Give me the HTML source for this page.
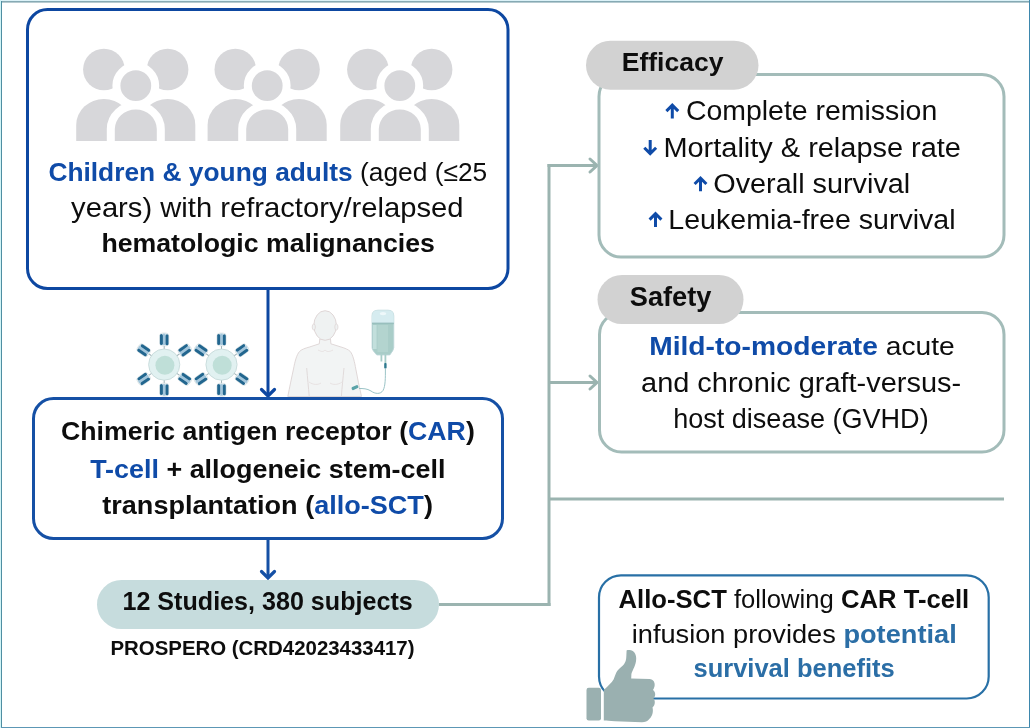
<!DOCTYPE html>
<html><head><meta charset="utf-8">
<style>
html,body{margin:0;padding:0;background:#fff;}
body{width:1030px;height:728px;overflow:hidden;position:relative;}
svg{position:absolute;left:0;top:0;display:block;will-change:transform;}
text{font-family:"Liberation Sans",sans-serif;}
</style></head>
<body>
<svg width="1030" height="728" viewBox="0 0 1030 728">
<rect x="0" y="0" width="1030" height="728" fill="#fff"/>
<rect x="0" y="0" width="1030" height="1" fill="#dcf2f8"/>
<rect x="0" y="0" width="1" height="728" fill="#d0f4f6"/>
<rect x="1" y="1" width="1028" height="1.6" fill="#86aab4"/>
<rect x="1" y="1" width="1" height="727" fill="#4f8ea2"/>
<rect x="1029" y="0" width="1" height="728" fill="#3d87ad"/>
<rect x="1" y="727" width="1029" height="1" fill="#5c97b5"/>
<g fill="#d7d7da">
<g transform="translate(0,0)">
<circle cx="103.9" cy="69.5" r="20.8"/>
<path d="M76.2,141 L76.2,124.9 A27.7,26 0 0 1 131.6,124.9 L131.6,141 Z"/>
<circle cx="167.6" cy="69.5" r="20.8"/>
<path d="M139.9,141 L139.9,124.9 A27.7,26 0 0 1 195.3,124.9 L195.3,141 Z"/>
<g stroke="#fff" stroke-width="16" paint-order="stroke" stroke-linejoin="round">
<circle cx="135.8" cy="85.7" r="15.4"/>
<path d="M114.8,141 L114.8,129.1 A21,19.5 0 0 1 156.8,129.1 L156.8,141 Z"/>
</g>
</g>
<g transform="translate(131.4,0)">
<circle cx="103.9" cy="69.5" r="20.8"/>
<path d="M76.2,141 L76.2,124.9 A27.7,26 0 0 1 131.6,124.9 L131.6,141 Z"/>
<circle cx="167.6" cy="69.5" r="20.8"/>
<path d="M139.9,141 L139.9,124.9 A27.7,26 0 0 1 195.3,124.9 L195.3,141 Z"/>
<g stroke="#fff" stroke-width="16" paint-order="stroke" stroke-linejoin="round">
<circle cx="135.8" cy="85.7" r="15.4"/>
<path d="M114.8,141 L114.8,129.1 A21,19.5 0 0 1 156.8,129.1 L156.8,141 Z"/>
</g>
</g>
<g transform="translate(264.0,0)">
<circle cx="103.9" cy="69.5" r="20.8"/>
<path d="M76.2,141 L76.2,124.9 A27.7,26 0 0 1 131.6,124.9 L131.6,141 Z"/>
<circle cx="167.6" cy="69.5" r="20.8"/>
<path d="M139.9,141 L139.9,124.9 A27.7,26 0 0 1 195.3,124.9 L195.3,141 Z"/>
<g stroke="#fff" stroke-width="16" paint-order="stroke" stroke-linejoin="round">
<circle cx="135.8" cy="85.7" r="15.4"/>
<path d="M114.8,141 L114.8,129.1 A21,19.5 0 0 1 156.8,129.1 L156.8,141 Z"/>
</g>
</g>
</g>
<rect x="60" y="141" width="420" height="9" fill="#fff"/>
<rect x="27.5" y="9.5" width="480.5" height="279" rx="20" ry="20" fill="none" stroke="#0d47a1" stroke-width="3"/>
<line x1="268" y1="290" x2="268" y2="395" stroke="#0d47a1" stroke-width="3"/>
<polyline points="261.5,389.5 268,396 274.5,389.5" fill="none" stroke="#0d47a1" stroke-width="3.2" stroke-linecap="round"/>
<rect x="33.5" y="398.5" width="469" height="140" rx="20" ry="20" fill="none" stroke="#1550a5" stroke-width="3"/>
<line x1="268" y1="540" x2="268" y2="578" stroke="#1550a5" stroke-width="3"/>
<polyline points="261.5,571.5 268,578 274.5,571.5" fill="none" stroke="#1550a5" stroke-width="3.2" stroke-linecap="round"/>
<rect x="97" y="580" width="342" height="49" rx="24.5" ry="24.5" fill="#c6dcdd"/>
<g stroke="#9bb4b0" stroke-width="3" fill="none">
  <line x1="439" y1="604.5" x2="550.5" y2="604.5"/>
  <line x1="549" y1="164" x2="549" y2="606"/>
  <line x1="547.5" y1="165.5" x2="596" y2="165.5"/>
  <line x1="549" y1="382.5" x2="596" y2="382.5"/>
  <line x1="549" y1="499" x2="1004" y2="499"/>
  <polyline points="590,159 597,165.5 590,172" stroke-linecap="round"/>
  <polyline points="590,376 597,382.5 590,389" stroke-linecap="round"/>
</g>
<rect x="599" y="74.5" width="405" height="182.5" rx="22" ry="22" fill="none" stroke="#a3bcb9" stroke-width="3"/>
<rect x="586" y="40.7" width="172.5" height="49" rx="24.5" ry="24.5" fill="#d2d2d2"/>
<rect x="599.5" y="312.5" width="404.5" height="139.5" rx="22" ry="22" fill="none" stroke="#a3bcb9" stroke-width="3"/>
<rect x="597.5" y="275" width="146" height="49" rx="24.5" ry="24.5" fill="#d2d2d2"/>
<rect x="599" y="575.3" width="389.7" height="123.2" rx="22" ry="22" fill="none" stroke="#2870a6" stroke-width="2.2"/>
<g transform="translate(164.20,339.60) rotate(0.0)">
<line x1="0" y1="5" x2="0" y2="10" stroke="#9fb3b8" stroke-width="1"/>
<rect x="-4.6" y="-6.6" width="9.2" height="13" rx="3" fill="#eef6f8" stroke="#c9d3d6" stroke-width="0.5"/>
<rect x="-1.3" y="-6" width="2.6" height="11.5" fill="#a3c6dc"/>
<rect x="-4.3" y="-5.6" width="3.0" height="11" rx="1.5" fill="#22668f"/>
<rect x="1.3" y="-5.4" width="3.0" height="11" rx="1.5" fill="#22668f"/>
</g>
<g transform="translate(164.20,389.60) rotate(-180.0)">
<line x1="0" y1="5" x2="0" y2="10" stroke="#9fb3b8" stroke-width="1"/>
<rect x="-4.6" y="-6.6" width="9.2" height="13" rx="3" fill="#eef6f8" stroke="#c9d3d6" stroke-width="0.5"/>
<rect x="-1.3" y="-6" width="2.6" height="11.5" fill="#a3c6dc"/>
<rect x="-4.3" y="-5.6" width="3.0" height="11" rx="1.5" fill="#22668f"/>
<rect x="1.3" y="-5.4" width="3.0" height="11" rx="1.5" fill="#22668f"/>
</g>
<g transform="translate(143.72,350.26) rotate(-55.0)">
<line x1="0" y1="5" x2="0" y2="10" stroke="#9fb3b8" stroke-width="1"/>
<rect x="-4.6" y="-6.6" width="9.2" height="13" rx="3" fill="#eef6f8" stroke="#c9d3d6" stroke-width="0.5"/>
<rect x="-1.3" y="-6" width="2.6" height="11.5" fill="#a3c6dc"/>
<rect x="-4.3" y="-5.6" width="3.0" height="11" rx="1.5" fill="#22668f"/>
<rect x="1.3" y="-5.4" width="3.0" height="11" rx="1.5" fill="#22668f"/>
</g>
<g transform="translate(143.72,378.94) rotate(-125.0)">
<line x1="0" y1="5" x2="0" y2="10" stroke="#9fb3b8" stroke-width="1"/>
<rect x="-4.6" y="-6.6" width="9.2" height="13" rx="3" fill="#eef6f8" stroke="#c9d3d6" stroke-width="0.5"/>
<rect x="-1.3" y="-6" width="2.6" height="11.5" fill="#a3c6dc"/>
<rect x="-4.3" y="-5.6" width="3.0" height="11" rx="1.5" fill="#22668f"/>
<rect x="1.3" y="-5.4" width="3.0" height="11" rx="1.5" fill="#22668f"/>
</g>
<g transform="translate(184.68,350.26) rotate(55.0)">
<line x1="0" y1="5" x2="0" y2="10" stroke="#9fb3b8" stroke-width="1"/>
<rect x="-4.6" y="-6.6" width="9.2" height="13" rx="3" fill="#eef6f8" stroke="#c9d3d6" stroke-width="0.5"/>
<rect x="-1.3" y="-6" width="2.6" height="11.5" fill="#a3c6dc"/>
<rect x="-4.3" y="-5.6" width="3.0" height="11" rx="1.5" fill="#22668f"/>
<rect x="1.3" y="-5.4" width="3.0" height="11" rx="1.5" fill="#22668f"/>
</g>
<g transform="translate(184.68,378.94) rotate(-235.0)">
<line x1="0" y1="5" x2="0" y2="10" stroke="#9fb3b8" stroke-width="1"/>
<rect x="-4.6" y="-6.6" width="9.2" height="13" rx="3" fill="#eef6f8" stroke="#c9d3d6" stroke-width="0.5"/>
<rect x="-1.3" y="-6" width="2.6" height="11.5" fill="#a3c6dc"/>
<rect x="-4.3" y="-5.6" width="3.0" height="11" rx="1.5" fill="#22668f"/>
<rect x="1.3" y="-5.4" width="3.0" height="11" rx="1.5" fill="#22668f"/>
</g>
<circle cx="164.2" cy="364.6" r="15.6" fill="#e1f1f1" stroke="#c3d7d7" stroke-width="0.8"/>
<circle cx="164.89999999999998" cy="365.20000000000005" r="9.5" fill="#bfdfd8"/>
<g transform="translate(221.50,339.60) rotate(0.0)">
<line x1="0" y1="5" x2="0" y2="10" stroke="#9fb3b8" stroke-width="1"/>
<rect x="-4.6" y="-6.6" width="9.2" height="13" rx="3" fill="#eef6f8" stroke="#c9d3d6" stroke-width="0.5"/>
<rect x="-1.3" y="-6" width="2.6" height="11.5" fill="#a3c6dc"/>
<rect x="-4.3" y="-5.6" width="3.0" height="11" rx="1.5" fill="#22668f"/>
<rect x="1.3" y="-5.4" width="3.0" height="11" rx="1.5" fill="#22668f"/>
</g>
<g transform="translate(221.50,389.60) rotate(-180.0)">
<line x1="0" y1="5" x2="0" y2="10" stroke="#9fb3b8" stroke-width="1"/>
<rect x="-4.6" y="-6.6" width="9.2" height="13" rx="3" fill="#eef6f8" stroke="#c9d3d6" stroke-width="0.5"/>
<rect x="-1.3" y="-6" width="2.6" height="11.5" fill="#a3c6dc"/>
<rect x="-4.3" y="-5.6" width="3.0" height="11" rx="1.5" fill="#22668f"/>
<rect x="1.3" y="-5.4" width="3.0" height="11" rx="1.5" fill="#22668f"/>
</g>
<g transform="translate(201.02,350.26) rotate(-55.0)">
<line x1="0" y1="5" x2="0" y2="10" stroke="#9fb3b8" stroke-width="1"/>
<rect x="-4.6" y="-6.6" width="9.2" height="13" rx="3" fill="#eef6f8" stroke="#c9d3d6" stroke-width="0.5"/>
<rect x="-1.3" y="-6" width="2.6" height="11.5" fill="#a3c6dc"/>
<rect x="-4.3" y="-5.6" width="3.0" height="11" rx="1.5" fill="#22668f"/>
<rect x="1.3" y="-5.4" width="3.0" height="11" rx="1.5" fill="#22668f"/>
</g>
<g transform="translate(201.02,378.94) rotate(-125.0)">
<line x1="0" y1="5" x2="0" y2="10" stroke="#9fb3b8" stroke-width="1"/>
<rect x="-4.6" y="-6.6" width="9.2" height="13" rx="3" fill="#eef6f8" stroke="#c9d3d6" stroke-width="0.5"/>
<rect x="-1.3" y="-6" width="2.6" height="11.5" fill="#a3c6dc"/>
<rect x="-4.3" y="-5.6" width="3.0" height="11" rx="1.5" fill="#22668f"/>
<rect x="1.3" y="-5.4" width="3.0" height="11" rx="1.5" fill="#22668f"/>
</g>
<g transform="translate(241.98,350.26) rotate(55.0)">
<line x1="0" y1="5" x2="0" y2="10" stroke="#9fb3b8" stroke-width="1"/>
<rect x="-4.6" y="-6.6" width="9.2" height="13" rx="3" fill="#eef6f8" stroke="#c9d3d6" stroke-width="0.5"/>
<rect x="-1.3" y="-6" width="2.6" height="11.5" fill="#a3c6dc"/>
<rect x="-4.3" y="-5.6" width="3.0" height="11" rx="1.5" fill="#22668f"/>
<rect x="1.3" y="-5.4" width="3.0" height="11" rx="1.5" fill="#22668f"/>
</g>
<g transform="translate(241.98,378.94) rotate(-235.0)">
<line x1="0" y1="5" x2="0" y2="10" stroke="#9fb3b8" stroke-width="1"/>
<rect x="-4.6" y="-6.6" width="9.2" height="13" rx="3" fill="#eef6f8" stroke="#c9d3d6" stroke-width="0.5"/>
<rect x="-1.3" y="-6" width="2.6" height="11.5" fill="#a3c6dc"/>
<rect x="-4.3" y="-5.6" width="3.0" height="11" rx="1.5" fill="#22668f"/>
<rect x="1.3" y="-5.4" width="3.0" height="11" rx="1.5" fill="#22668f"/>
</g>
<circle cx="221.5" cy="364.6" r="15.6" fill="#e1f1f1" stroke="#c3d7d7" stroke-width="0.8"/>
<circle cx="222.2" cy="365.20000000000005" r="9.5" fill="#bfdfd8"/>
<g>
<path d="M287.8,396.5 C289.5,388 291.5,378 293.5,369 C294.8,362 296.5,355 299.5,351.5 C301.5,349.5 305,348.2 309.5,347 L319.3,343.8 L319.8,339 L330.5,339 L330.9,343.8 L341,347 C345,348.2 348.3,349.5 350.3,351.5 C353,355 354.6,362 355.8,369 C357.5,378 359.3,387 361.5,396.5 Z" fill="#f2f4f4" stroke="#dcd4d4" stroke-width="0.9"/>
<path d="M306.7,368 C307.5,378 308.5,388 309.2,396" fill="none" stroke="#dcd3d3" stroke-width="0.8"/>
<path d="M344,368 C343,378 342,388 341.4,396" fill="none" stroke="#dcd3d3" stroke-width="0.8"/>
<path d="M309,382 C313,385 318,385 321,383 M330,383 C333,385 338,385 342,382" fill="none" stroke="#e2dada" stroke-width="0.7"/>
<path d="M318,350 C322,352 323,352 325,350 C327,352 329,352 333,350" fill="none" stroke="#e2dada" stroke-width="0.7"/>
<ellipse cx="325.1" cy="325.5" rx="11.3" ry="14.8" fill="#eff2f2" stroke="#dcd3d3" stroke-width="0.9"/>
<ellipse cx="313.8" cy="327" rx="1.6" ry="3" fill="#eff2f2" stroke="#dcd3d3" stroke-width="0.7"/>
<ellipse cx="336.4" cy="327" rx="1.6" ry="3" fill="#eff2f2" stroke="#dcd3d3" stroke-width="0.7"/>
<rect x="351.5" y="386" width="7" height="3.2" rx="1.2" fill="#5aa3a8" transform="rotate(-25 355 387.6)"/>
</g>
<g>
<path d="M372,316 Q372,310.2 378,310.2 L388,310.2 Q393.8,310.2 393.8,316 L393.8,347.5 Q393.8,350 389.8,355 L376.8,355 Q372,350 372,347.5 Z" fill="#a9cdc8" stroke="#bcd6d9" stroke-width="0.8"/>
<path d="M372,316 Q372,310.2 378,310.2 L388,310.2 Q393.8,310.2 393.8,316 L393.8,323 L372,323 Z" fill="#d6ecf0"/>
<rect x="372" y="322.6" width="21.8" height="1.6" fill="#98bfbd"/>
<ellipse cx="383" cy="313.6" rx="3.2" ry="1.6" fill="#eef8fa"/>
<rect x="373" y="325" width="3.6" height="24" fill="#c2dfdc"/>
<rect x="377.5" y="325" width="10.5" height="27" fill="#b3d4cf"/>
<rect x="380.5" y="354.5" width="1.8" height="7" fill="#a8cdc8"/>
<rect x="384.5" y="354.5" width="1.8" height="8.5" fill="#a8cdc8"/>
<rect x="384.2" y="363" width="2.4" height="5.5" rx="0.8" fill="#2f7a8f"/>
<path d="M385.4,368.5 C385.4,378 385.5,386 383,390.5 C380.5,394.5 375,394 371,391 C367,388.5 363,388.5 359,388.5" fill="none" stroke="#8fbcc0" stroke-width="0.9"/>
</g>
<rect x="586.5" y="687.8" width="14.5" height="32.6" rx="2.2" fill="#9ab0b0"/>
<path d="M603.8,720.4 L603.8,689.5 L604.8,688.9 C608,686 611.5,683 613.7,679.3 C615,676 616,673 617.2,671.1 C619.5,668 622.5,666 624,664.2 C625.5,662 626.2,660 626.3,657 L626.6,650.6 C626.7,650.2 627,650 627.6,650 L629.6,650 C633.6,650 636.2,653.6 636.2,658.6 C636.2,662 635.2,665 634.3,667 C633,670 631.8,672 631.4,674 L631.2,678.6 L649.5,678.9 C653.5,679.2 655.2,682.5 654.6,686 C654.2,688 653.5,689 653,690 C655.5,692 656.2,695.5 653.5,698.5 C655.5,701 655.3,705 652.5,707.5 C653.5,711 652.5,716 649.5,718.8 C647.5,721.5 645,722.3 642,722.3 L615,721.3 C610,720.8 606,720.6 603.8,720.4 Z" fill="#9ab0b0"/>
<path d="M672.3,118.39999999999999 L672.3,105.6 M666.4,111.1 L672.3,105.19999999999999 L678.1999999999999,111.1" fill="none" stroke="#0f4ba8" stroke-width="3"/>
<path d="M650.2,140.1 L650.2,153.2 M644.3000000000001,147.7 L650.2,153.6 L656.1,147.7" fill="none" stroke="#0f4ba8" stroke-width="3"/>
<path d="M700.5,191.3 L700.5,178.5 M694.6,184.0 L700.5,178.1 L706.4,184.0" fill="none" stroke="#0f4ba8" stroke-width="3"/>
<path d="M655.5,226.9 L655.5,214.1 M649.6,219.6 L655.5,213.7 L661.4,219.6" fill="none" stroke="#0f4ba8" stroke-width="3"/>
<g font-size="26.5" fill="#0d0d0d">
<text x="267.8" y="180.6" text-anchor="middle" font-size="26.5" transform="matrix(0.9946,0,0,1,1.456,0)"><tspan font-weight="bold" fill="#0f4ba8">Children &amp; young adults</tspan> (aged (≤25</text>
<text x="267.3" y="216.6" text-anchor="middle" font-size="27" transform="matrix(1.0809,0,0,1,-21.623,0)">years) with refractory/relapsed</text>
<text x="268.2" y="252.5" text-anchor="middle" font-size="26.5" font-weight="bold" transform="matrix(1.0070,0,0,1,-1.880,0)">hematologic malignancies</text>
<text x="267.9" y="440.5" text-anchor="middle" font-size="26.5" font-weight="bold" transform="matrix(1.0076,0,0,1,-2.038,0)">Chimeric antigen receptor (<tspan fill="#0f4ba8">CAR</tspan>)</text>
<text x="267.8" y="477.9" text-anchor="middle" font-size="26.5" font-weight="bold" transform="matrix(1.0158,0,0,1,-4.235,0)"><tspan fill="#0f4ba8">T-cell</tspan> + allogeneic stem-cell</text>
<text x="267.6" y="513.6" text-anchor="middle" font-size="26.5" font-weight="bold" transform="matrix(1.0214,0,0,1,-5.725,0)">transplantation (<tspan fill="#0f4ba8">allo-SCT</tspan>)</text>
<text x="267.6" y="610" text-anchor="middle" font-size="25.5" font-weight="bold" transform="matrix(0.9850,0,0,1,4.016,0)">12 Studies, 380 subjects</text>
<text x="262.5" y="654.7" text-anchor="middle" font-size="20.2" font-weight="bold" transform="matrix(1.0110,0,0,1,-2.900,0)">PROSPERO (CRD42023433417)</text>
<text x="672.6" y="70.8" text-anchor="middle" font-size="26" font-weight="bold" transform="matrix(1.0205,0,0,1,-13.794,0)">Efficacy</text>
<text x="670.6" y="306.2" text-anchor="middle" font-size="26.8" font-weight="bold" transform="matrix(1.0156,0,0,1,-10.458,0)">Safety</text>
<text x="811.6" y="119.6" text-anchor="middle" font-size="27" transform="matrix(1.0541,0,0,1,-43.913,0)">Complete remission</text>
<text x="812.2" y="156.8" text-anchor="middle" font-size="27" transform="matrix(1.0721,0,0,1,-58.554,0)">Mortality &amp; relapse rate</text>
<text x="811.8" y="192.6" text-anchor="middle" font-size="27" transform="matrix(1.0679,0,0,1,-55.156,0)">Overall survival</text>
<text x="812.0" y="228.6" text-anchor="middle" font-size="27" transform="matrix(1.0581,0,0,1,-47.196,0)">Leukemia-free survival</text>
<text x="802.0" y="354.6" text-anchor="middle" font-size="26.5" transform="matrix(1.0642,0,0,1,-51.507,0)"><tspan font-weight="bold" fill="#0f4ba8">Mild-to-moderate</tspan> acute</text>
<text x="801.1" y="391.6" text-anchor="middle" font-size="27" transform="matrix(1.0723,0,0,1,-57.919,0)">and chronic graft-versus-</text>
<text x="800.9" y="427.6" text-anchor="middle" font-size="27" transform="matrix(1.0019,0,0,1,-1.511,0)">host disease (GVHD)</text>
<text x="793.9" y="607.6" text-anchor="middle" font-size="25.5" transform="matrix(1.0063,0,0,1,-5.027,0)"><tspan font-weight="bold">Allo-SCT</tspan> following <tspan font-weight="bold">CAR T-cell</tspan></text>
<text x="794.2" y="642.8" text-anchor="middle" font-size="25.5" transform="matrix(1.0666,0,0,1,-52.868,0)">infusion provides <tspan font-weight="bold" fill="#2b6ea6">potential</tspan></text>
<text x="794.1" y="677.5" text-anchor="middle" font-size="25.5" font-weight="bold" fill="#2b6ea6" transform="matrix(1.0004,0,0,1,-0.321,0)">survival benefits</text>
</g>
</svg>
</body></html>
